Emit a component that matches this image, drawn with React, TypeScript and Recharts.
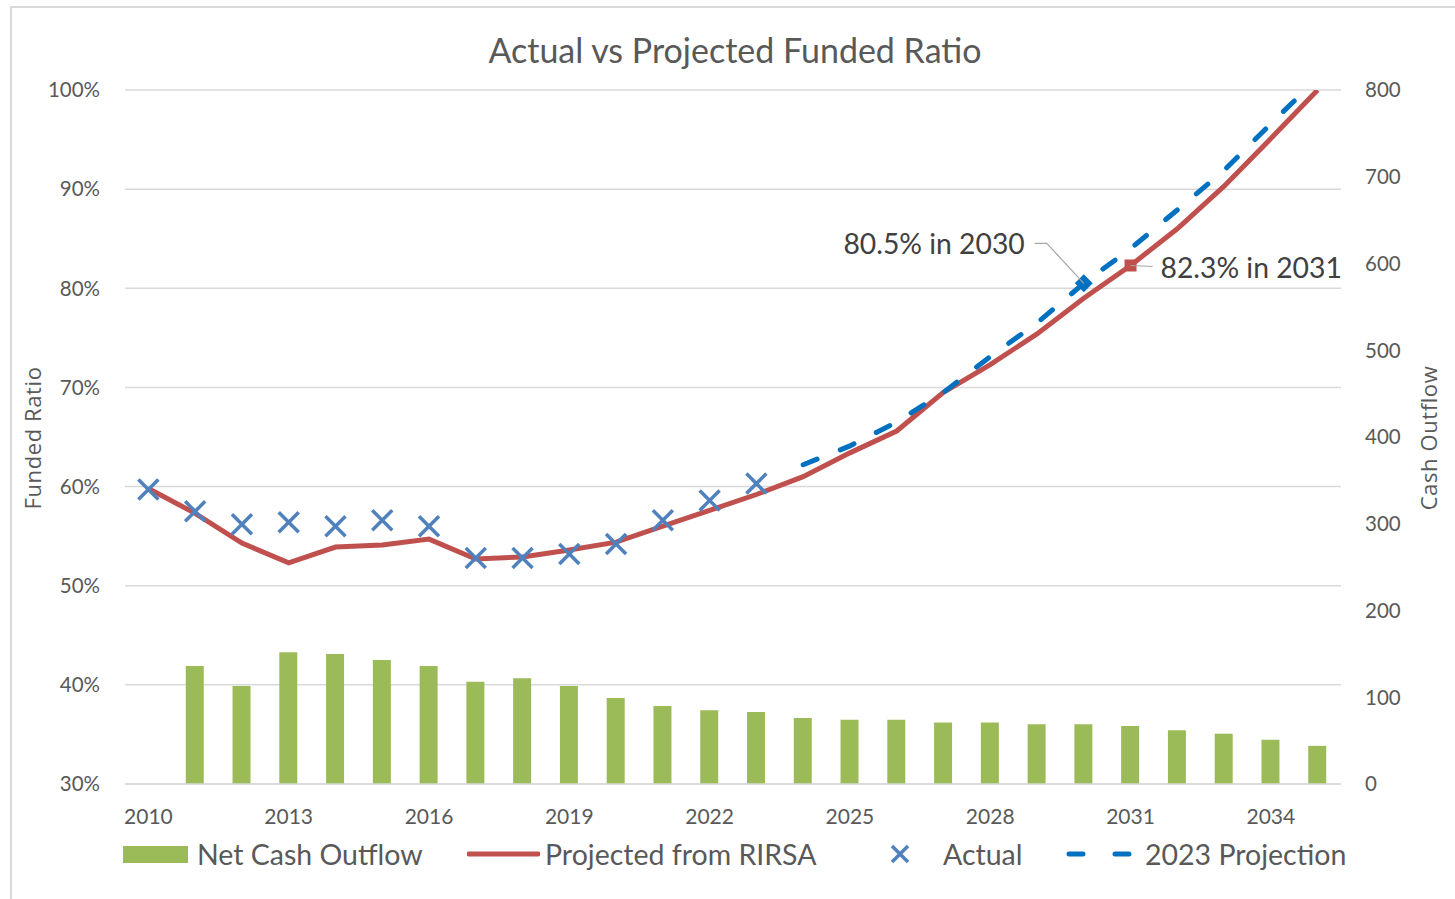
import React from "react";
import {
  ComposedChart,
  Bar,
  Line,
  XAxis,
  YAxis,
  CartesianGrid,
  Legend,
} from "recharts";

const years = [
  "2010", "2011", "2012", "2013", "2014", "2015", "2016", "2017", "2018",
  "2019", "2020", "2021", "2022", "2023", "2024", "2025", "2026", "2027",
  "2028", "2029", "2030", "2031", "2032", "2033", "2034", "2035",
];

// right axis, cash outflow
const netCashOutflow = [
  null, 136, 113, 152, 150, 143, 136, 118, 122, 113, 99, 90, 85, 83, 76, 74,
  74, 71, 71, 69, 69, 67, 62, 58, 51, 44,
];

// left axis, funded ratio in %
const projectedRirsa = [
  59.8, 57.3, 54.3, 52.3, 53.9, 54.1, 54.7, 52.7, 52.9, 53.6, 54.4, 56.0,
  57.6, 59.2, 61.0, 63.4, 65.6, 69.5, 72.3, 75.4, 79.0, 82.3, 86.0, 90.3,
  95.1, 100.0,
];

const actual = [
  59.7, 57.5, 56.2, 56.4, 56.0, 56.6, 56.0, 52.8, 52.8, 53.2, 54.2, 56.6,
  58.6, 60.3, null, null, null, null, null, null, null, null, null, null,
  null, null,
];

const projection2023 = [
  null, null, null, null, null, null, null, null, null, null, null, null,
  null, null, 62.2, 64.1, 66.5, 69.5, 73.1, 76.5, 80.5, 84.0, 87.9, 91.9,
  96.6, 101.2,
];

const leftTicks = [30, 40, 50, 60, 70, 80, 90, 100];
const rightTicks = [0, 100, 200, 300, 400, 500, 600, 700, 800];

const projLabelYear = "2030";
const rirsaLabelYear = "2031";

const data = years.map((year, i) => ({
  year,
  outflow: netCashOutflow[i],
  rirsa: projectedRirsa[i],
  actual: actual[i],
  proj: projection2023[i],
}));

const FONT = "Lato, 'Open Sans', sans-serif";
const TEXT = "#595959";
const GREEN = "#9BBB59";
const RED = "#C0504D";
const XBLUE = "#4F81BD";
const DASHBLUE = "#0070C0";
const GRID = "#D9D9D9";

const XMark = (props: any) => {
  const { cx, cy, value, index } = props;
  if (value == null || cy == null) return <g key={`x-${index}`} />;
  const s = 10;
  return (
    <g key={`x-${index}`} stroke={XBLUE} strokeWidth={3.5}>
      <line x1={cx - s} y1={cy - s} x2={cx + s} y2={cy + s} />
      <line x1={cx - s} y1={cy + s} x2={cx + s} y2={cy - s} />
    </g>
  );
};

const ProjDot = (props: any) => {
  const { cx, cy, index, payload } = props;
  if (!payload || payload.year !== projLabelYear || cy == null)
    return <g key={`pd-${index}`} />;
  const s = 9;
  return (
    <polygon
      key={`pd-${index}`}
      points={`${cx},${cy - s} ${cx + s},${cy} ${cx},${cy + s} ${cx - s},${cy}`}
      fill={DASHBLUE}
    />
  );
};

const RirsaDot = (props: any) => {
  const { cx, cy, index, payload } = props;
  if (!payload || payload.year !== rirsaLabelYear || cy == null)
    return <g key={`rd-${index}`} />;
  return (
    <rect key={`rd-${index}`} x={cx - 6} y={cy - 6} width={12} height={12} fill={RED} />
  );
};

const pick = (props: any) => {
  const x = props.x ?? props.viewBox?.x;
  const y = props.y ?? props.viewBox?.y;
  return { x, y };
};

const ProjLabel = (props: any) => {
  const { index, value } = props;
  if (years[index] !== projLabelYear) return null;
  const { x, y } = pick(props);
  return (
    <g>
      <polyline
        points={`${x},${y} ${x - 37},${y - 40} ${x - 49},${y - 40}`}
        fill="none"
        stroke="#A6A6A6"
        strokeWidth={1.2}
      />
      <text
        x={x - 59}
        y={y - 40}
        textAnchor="end"
        dominantBaseline="central"
        fontFamily={FONT}
        fontSize={28.3}
        fill="#404040"
      >
        {`${value.toFixed(1)}% in ${projLabelYear}`}
      </text>
    </g>
  );
};

const RirsaLabel = (props: any) => {
  const { index, value } = props;
  if (years[index] !== rirsaLabelYear) return null;
  const { x, y } = pick(props);
  return (
    <g>
      <line x1={x} y1={y} x2={x + 22} y2={y + 1} stroke="#A6A6A6" strokeWidth={1.2} />
      <text
        x={x + 30}
        y={y + 2}
        textAnchor="start"
        dominantBaseline="central"
        fontFamily={FONT}
        fontSize={28.3}
        fill="#404040"
      >
        {`${value.toFixed(1)}% in ${rirsaLabelYear}`}
      </text>
    </g>
  );
};

const legendText = (left: number): React.CSSProperties => ({
  position: "absolute",
  left,
  top: 0,
  lineHeight: "36px",
});

const renderLegend = () => (
  <div
    style={{
      position: "relative",
      width: 1240,
      height: 36,
      fontFamily: FONT,
      fontSize: 28.5,
      color: TEXT,
      whiteSpace: "nowrap",
    }}
  >
    <span
      style={{ position: "absolute", left: 0, top: 10, width: 65, height: 17, background: GREEN }}
    />
    <span style={legendText(74)}>Net Cash Outflow</span>
    <svg width={73} height={10} style={{ position: "absolute", left: 344, top: 13 }}>
      <line x1={2} y1={5} x2={71} y2={5} stroke={RED} strokeWidth={5} strokeLinecap="round" />
    </svg>
    <span style={legendText(422)}>Projected from RIRSA</span>
    <svg width={22} height={22} style={{ position: "absolute", left: 766, top: 7 }}>
      <g stroke={XBLUE} strokeWidth={3.5}>
        <line x1={3} y1={3} x2={19} y2={19} />
        <line x1={3} y1={19} x2={19} y2={3} />
      </g>
    </svg>
    <span style={legendText(820)}>Actual</span>
    <svg width={66} height={10} style={{ position: "absolute", left: 943, top: 13 }}>
      <line
        x1={3}
        y1={5}
        x2={63}
        y2={5}
        stroke={DASHBLUE}
        strokeWidth={5}
        strokeLinecap="round"
        strokeDasharray="14 32"
      />
    </svg>
    <span style={legendText(1022)}>2023 Projection</span>
  </div>
);

const axisTitle = (text: string, dx: number) => (props: any) => {
  const vb = props.viewBox;
  const x = vb.x + dx;
  const y = 438;
  return (
    <text
      x={x}
      y={y}
      transform={`rotate(-90, ${x}, ${y})`}
      textAnchor="middle"
      dominantBaseline="central"
      fontFamily="'Open Sans', sans-serif"
      fontSize={22}
      letterSpacing={0.6}
      fill={TEXT}
    >
      {text}
    </text>
  );
};

export default function App() {
  return (
    <div
      style={{
        position: "absolute",
        left: 0,
        top: 0,
        width: 1455,
        height: 899,
        background: "#fff",
        overflow: "hidden",
      }}
    >
      <div
        style={{
          position: "absolute",
          left: 10,
          top: 6,
          width: 1460,
          height: 905,
          border: `2px solid ${GRID}`,
        }}
      />
      <div
        style={{
          position: "absolute",
          left: 125,
          top: 29,
          width: 1220,
          textAlign: "center",
          fontFamily: FONT,
          fontSize: 34,
          color: TEXT,
          lineHeight: "42px",
        }}
      >
        Actual vs Projected Funded Ratio
      </div>
      <ComposedChart
        width={1455}
        height={899}
        data={data}
        margin={{ top: 90, right: 0, bottom: 75, left: 0 }}
        style={{ position: "absolute", left: 0, top: 0 }}
      >
        <CartesianGrid
          yAxisId="left"
          vertical={false}
          stroke={GRID}
          strokeWidth={1.5}
        />
        <XAxis
          dataKey="year"
          interval={2}
          height={40}
          tickLine={false}
          tickSize={0}
          tickMargin={25}
          axisLine={{ stroke: GRID, strokeWidth: 1.5 }}
          tick={{ fontFamily: FONT, fontSize: 21, fill: TEXT }}
        />
        <YAxis
          yAxisId="left"
          orientation="left"
          width={125}
          domain={[30, 100]}
          ticks={leftTicks}
          allowDataOverflow
          tickFormatter={(v: number) => `${v}%`}
          axisLine={false}
          tickLine={false}
          tickSize={0}
          tickMargin={25}
          tick={{ fontFamily: FONT, fontSize: 20.5, fill: TEXT }}
          label={{ content: axisTitle("Funded Ratio", 32) }}
        />
        <YAxis
          yAxisId="right"
          orientation="right"
          width={114}
          domain={[0, 800]}
          ticks={rightTicks}
          axisLine={false}
          tickLine={false}
          tickSize={0}
          tickMargin={24}
          tick={{ fontFamily: FONT, fontSize: 20.5, fill: TEXT }}
          label={{ content: axisTitle("Cash Outflow", 87) }}
        />
        <Legend
          content={renderLegend}
          layout="horizontal"
          verticalAlign="middle"
          align="center"
          wrapperStyle={{ top: 836, left: 123, width: "auto" }}
        />
        <Bar
          yAxisId="right"
          dataKey="outflow"
          fill={GREEN}
          barSize={18}
          isAnimationActive={false}
        />
        <Line
          yAxisId="left"
          dataKey="rirsa"
          stroke={RED}
          strokeWidth={5}
          dot={RirsaDot}
          activeDot={false}
          label={RirsaLabel}
          isAnimationActive={false}
        />
        <Line
          yAxisId="left"
          dataKey="proj"
          stroke={DASHBLUE}
          strokeWidth={5}
          strokeDasharray="15 25"
          strokeLinecap="round"
          dot={ProjDot}
          activeDot={false}
          label={ProjLabel}
          isAnimationActive={false}
        />
        <Line
          yAxisId="left"
          dataKey="actual"
          stroke="none"
          strokeWidth={0}
          dot={XMark}
          activeDot={false}
          isAnimationActive={false}
        />
      </ComposedChart>
    </div>
  );
}
